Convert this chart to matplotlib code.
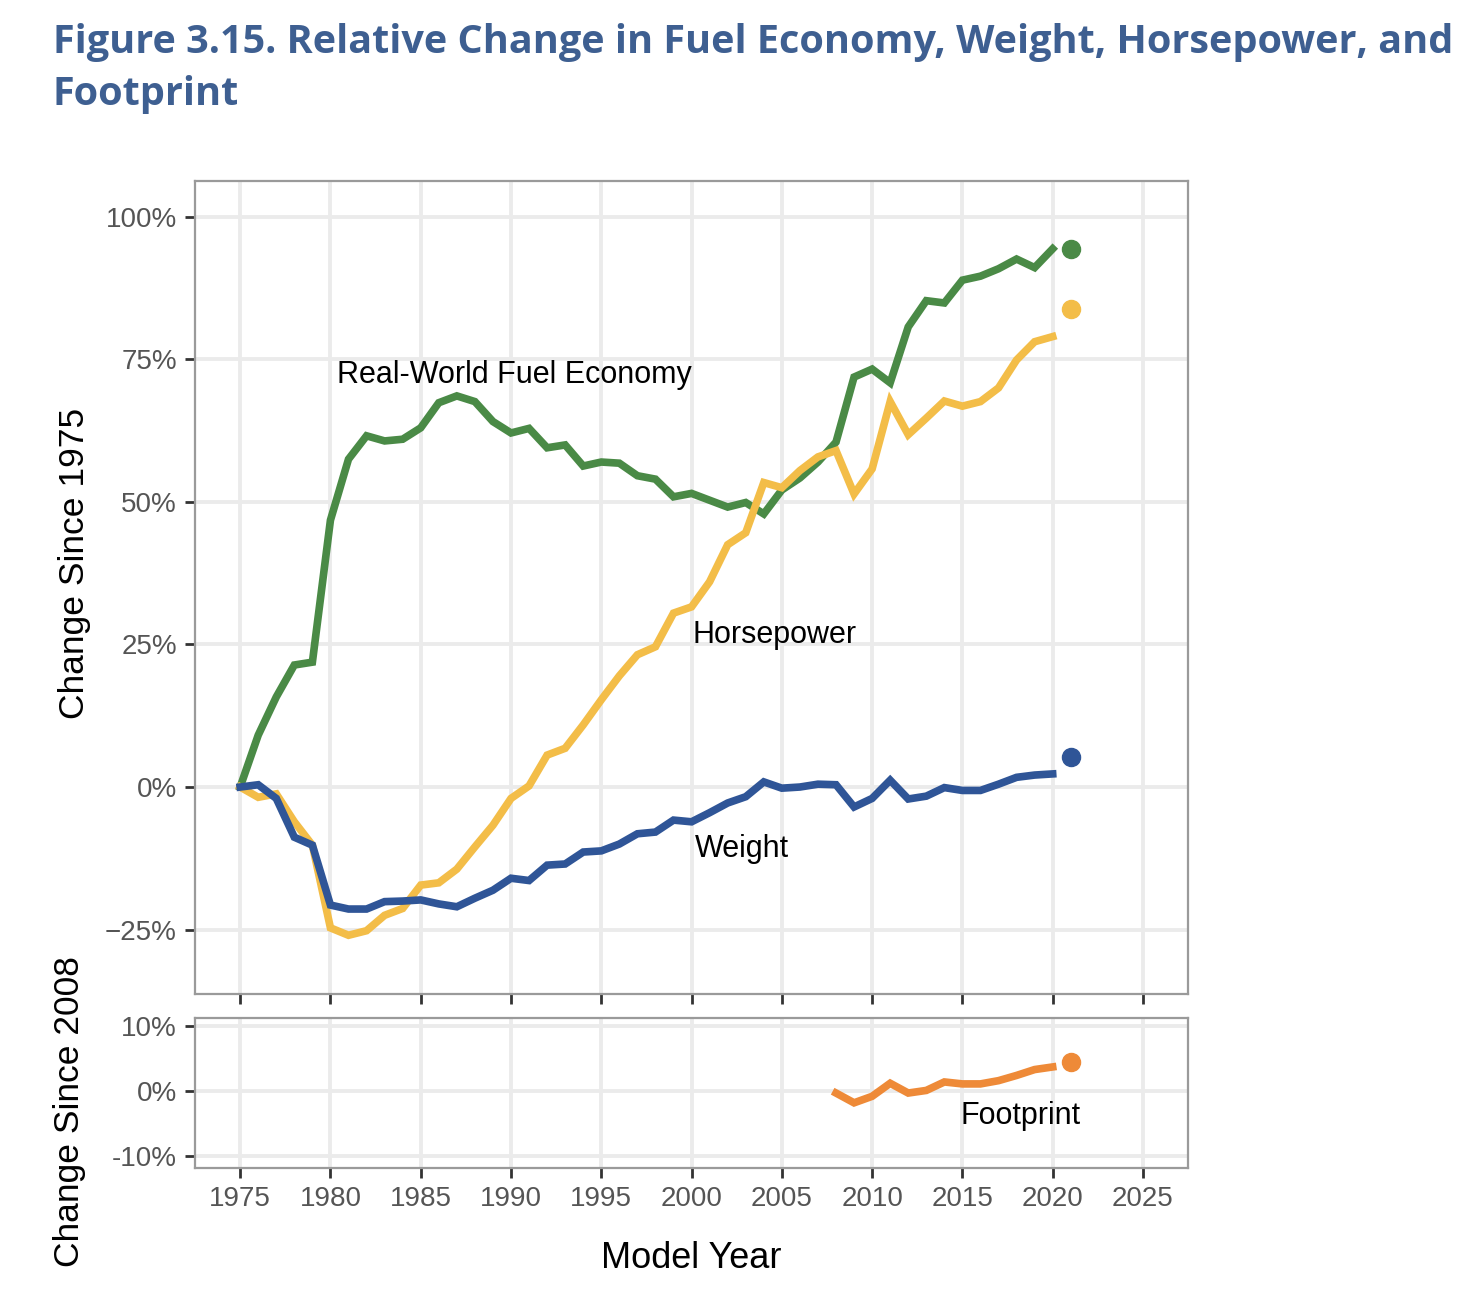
import matplotlib
matplotlib.use('Agg')
from matplotlib import pyplot as plt
from matplotlib.ticker import FuncFormatter

years = list(range(1975, 2021))

fuel_economy = [0, 9.1, 15.8, 21.4, 21.9, 46.8, 57.5, 61.6, 60.7, 61.0,
                63.0, 67.4, 68.6, 67.6, 64.1, 62.1, 62.9, 59.5, 60.0, 56.3,
                57.0, 56.8, 54.6, 54.0, 50.9, 51.5, 50.3, 49.1, 49.9, 47.9,
                52.1, 54.2, 57.0, 60.5, 71.9, 73.3, 70.9, 80.7, 85.3, 84.9,
                88.9, 89.6, 90.9, 92.6, 91.1, 94.4]

horsepower = [0, -1.8, -1.2, -6.1, -10.2, -24.7, -26.0, -25.2, -22.5, -21.3,
              -17.2, -16.8, -14.4, -10.5, -6.7, -2.0, 0.2, 5.6, 6.8, 10.9,
              15.3, 19.5, 23.2, 24.6, 30.5, 31.6, 36.0, 42.5, 44.6, 53.4,
              52.5, 55.5, 57.9, 59.0, 51.4, 55.8, 67.6, 61.8, 64.7, 67.7,
              66.8, 67.6, 70.0, 74.9, 78.1, 79.0]

weight = [0, 0.4, -2.0, -8.8, -10.2, -20.7, -21.4, -21.4, -20.1, -20.0,
          -19.8, -20.5, -21.0, -19.5, -18.1, -16.0, -16.4, -13.7, -13.5, -11.4,
          -11.2, -10.0, -8.2, -7.9, -5.8, -6.1, -4.5, -2.8, -1.7, 0.9,
          -0.2, 0.0, 0.5, 0.4, -3.5, -2.0, 1.2, -2.1, -1.6, -0.1,
          -0.6, -0.6, 0.5, 1.7, 2.1, 2.3]

fp_years = list(range(2008, 2021))
footprint = [-0.3, -1.8, -0.8, 1.2, -0.3, 0.1, 1.4, 1.1, 1.1, 1.6, 2.4, 3.3, 3.7]

# 2021 preliminary points
prelim_year = 2021
prelim_fe, prelim_hp, prelim_wt, prelim_fp = 94.4, 83.9, 5.3, 4.4

green, yellow, blue, orange = '#4a8a46', '#f3bd48', '#2f5597', '#ee8a38'
tick_grey = '#555555'

plt.rcParams['font.family'] = ['Liberation Sans', 'DejaVu Sans']

fig = plt.figure(figsize=(14.63, 12.99), dpi=100)
ax = fig.add_axes([0.1333, 0.2348, 0.6788, 0.6259])
ax2 = fig.add_axes([0.1333, 0.1008, 0.6788, 0.1155])

for a in (ax, ax2):
  a.set_xlim(1972.5, 2027.5)
  a.set_xticks(range(1975, 2030, 5))
  a.grid(True, color='#ebebeb', linewidth=2.8)
  a.set_axisbelow(True)
  for s in a.spines.values():
    s.set_color('#9a9a9a')
    s.set_linewidth(1.6)
  a.tick_params(length=7, width=2, color='#333333', labelsize=20,
                labelcolor=tick_grey, pad=6)

ax.plot(years, fuel_economy, color=green, lw=5.5, solid_joinstyle='miter')
ax.plot(years, horsepower, color=yellow, lw=5.5, solid_joinstyle='miter')
ax.plot(years, weight, color=blue, lw=5.5, solid_joinstyle='miter')
ax.plot([prelim_year], [prelim_fe], 'o', color=green, ms=13)
ax.plot([prelim_year], [prelim_hp], 'o', color=yellow, ms=13)
ax.plot([prelim_year], [prelim_wt], 'o', color=blue, ms=13)
ax.set_ylim(-36.3, 106.3)
ax.set_yticks([-25, 0, 25, 50, 75, 100])
ax.yaxis.set_major_formatter(FuncFormatter(lambda v, p: '%d%%' % v if v >= 0 else '\u2212%d%%' % -v))
ax.tick_params(axis='x', labelbottom=False)

ax.text(1990.2, 72.3, 'Real-World Fuel Economy', fontsize=22, va='center', ha='center')
ax.text(2004.6, 26.7, 'Horsepower', fontsize=22, va='center', ha='center')
ax.text(2002.8, -10.9, 'Weight', fontsize=22, va='center', ha='center')

ax2.plot(fp_years, footprint, color=orange, lw=5.5, solid_joinstyle='miter')
ax2.plot([prelim_year], [prelim_fp], 'o', color=orange, ms=13)
ax2.set_ylim(-11.8, 11.2)
ax2.set_yticks([-10, 0, 10])
ax2.yaxis.set_major_formatter(FuncFormatter(lambda v, p: '%d%%' % v))
ax2.text(2018.2, -3.8, 'Footprint', fontsize=22, va='center', ha='center')

fig.text(75 / 1463, 1 - 563 / 1299, 'Change Since 1975', rotation=90, fontsize=25.5,
         ha='center', va='center')
fig.text(70 / 1463, 1 - 1112 / 1299, 'Change Since 2008', rotation=90, fontsize=25.5,
         ha='center', va='center')
fig.text(691 / 1463, 1 - 1258 / 1299, 'Model Year', fontsize=26, ha='center', va='center')

fig.text(53 / 1463, 1 - 42 / 1299, 'Figure 3.15. Relative Change in Fuel Economy, Weight, Horsepower, and',
         fontsize=28.5, fontweight='bold', color='#3e5f91', family='Open Sans', va='center')
fig.text(53 / 1463, 1 - 95 / 1299, 'Footprint',
         fontsize=28.5, fontweight='bold', color='#3e5f91', family='Open Sans', va='center')

fig.savefig('out.png', dpi=100)
